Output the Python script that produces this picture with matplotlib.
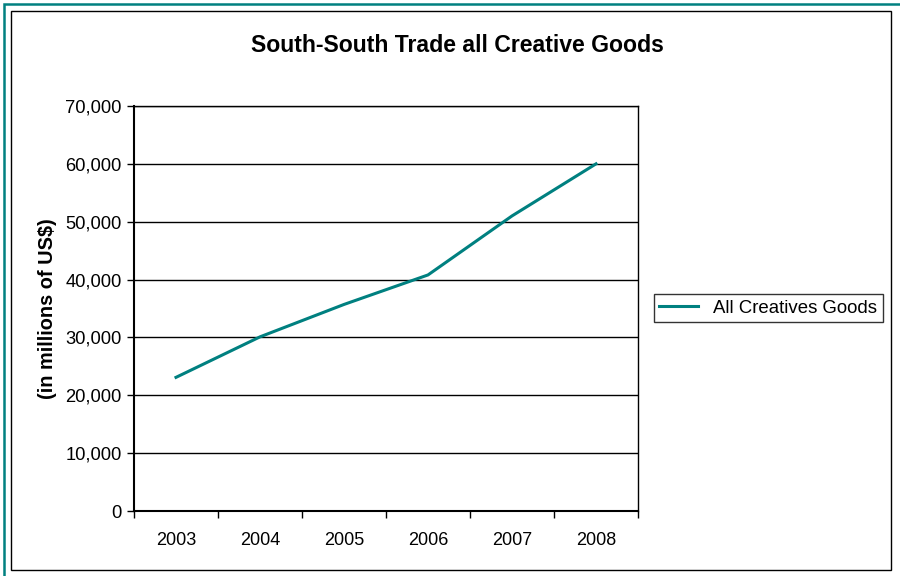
# South-South trade line chart in an Excel-like frame

import matplotlib.pyplot as plt
from matplotlib.patches import Rectangle

years = ['2003', '2004', '2005', '2006', '2007', '2008']
values = [23100, 30100, 35700, 40800, 51000, 60000]
yticks = [0, 10000, 20000, 30000, 40000, 50000, 60000, 70000]

teal = '#008080'
plt.rcParams['font.family'] = ['Liberation Sans', 'DejaVu Sans']

fig = plt.figure(figsize=(9, 5.76), dpi=100)
W, H = 900.0, 576.0

# frames (pixel coords -> figure fraction)
def px_rect(x0, y0, x1, y1, **kw):
    r = Rectangle((x0 / W, 1 - y1 / H), (x1 - x0) / W, (y1 - y0) / H,
                  transform=fig.transFigure, fill=False, **kw)
    fig.patches.append(r)

px_rect(4, 4, 905, 590, edgecolor=teal, lw=1.8)
px_rect(11, 11, 891, 570, edgecolor='black', lw=1.0)

# plot area: x 134..638, y 106..511
ax = fig.add_axes([134 / W, 1 - 511 / H, (638 - 134) / W, (511 - 106) / H])
x = list(range(len(years)))
ax.plot(x, values, color=teal, lw=2.2, label='All Creatives Goods')

ax.set_xlim(-0.5, len(years) - 0.5)
ax.set_ylim(0, 70000)
ax.set_yticks(yticks)
ax.set_yticklabels(['{:,}'.format(v) for v in yticks])
ax.set_xticks(x)
ax.set_xticklabels(years)
ax.set_xticks([i - 0.5 for i in range(len(years) + 1)], minor=True)
ax.tick_params(axis='x', which='major', length=0, pad=15, labelsize=13)
ax.tick_params(axis='x', which='minor', length=5, width=1, direction='out')
ax.tick_params(axis='y', length=5, width=1, direction='out', pad=4, labelsize=13.2)
ax.yaxis.grid(True, color='black', lw=1)
ax.set_axisbelow(True)
for s in ax.spines.values():
    s.set_color('black')
    s.set_linewidth(1)
ax.spines['left'].set_linewidth(1.5)
ax.spines['bottom'].set_linewidth(1.5)

ax.set_ylabel('(in millions of US$)', fontsize=14.3, fontweight='bold', labelpad=6)
fig.text(457 / W, 1 - 45 / H, 'South-South Trade all Creative Goods',
         ha='center', va='center', fontsize=16.6, fontweight='bold')

leg = ax.legend(loc='center left', bbox_to_anchor=(650 / W, 1 - 308 / H),
                bbox_transform=fig.transFigure, frameon=True, fancybox=False,
                fontsize=13.4, handlelength=2.1, borderpad=0.3, handletextpad=0.8,
                borderaxespad=0.2)
leg.get_frame().set_edgecolor('black')
leg.get_frame().set_linewidth(1)

fig.savefig('out.png', dpi=100)
